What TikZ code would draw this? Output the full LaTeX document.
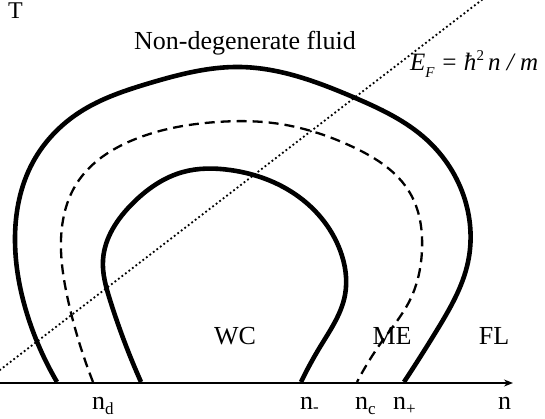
\documentclass[tikz,border=0pt]{standalone}
\usepackage{fontspec}
\setmainfont{Liberation Serif}
\usetikzlibrary{arrows.meta,hobby}
\begin{document}
\begin{tikzpicture}[x=1pt,y=-1pt,
  lbl/.style={font=\fontsize{26}{30}\selectfont, inner sep=0pt, anchor=base},
  lblw/.style={lbl, anchor=base west},
  solidcurve/.style={line width=4.6pt, line cap=butt, line join=round, use Hobby shortcut},
  dashcurve/.style={line width=2.3pt, dash pattern=on 10pt off 6pt, use Hobby shortcut},
  dotline/.style={line width=1.8pt, dash pattern=on 1.8pt off 2.6pt},
  axisline/.style={line width=1.3pt, -{Stealth[length=9pt,width=7pt]}}]
\useasboundingbox (0,0) rectangle (545,419);

% axis
\coordinate (o) at (0,383);
\coordinate (xe) at (513,383);
\draw[axisline] (o) -- (xe);

% Fermi line
\coordinate (d1) at (-4,373);
\coordinate (d2) at (483,-1);
\draw[dotline] (d1) -- (d2);

% outer solid curve
\draw[solidcurve] (57,382) .. (28,317) .. (15,240) .. (33,162) .. (80,112)
  .. (150,83) .. (240,67) .. (353,97) .. (427,140) .. (465,200) .. (468,262)
  .. (437,330) .. (404,382);

% dashed curve
\draw[dashcurve] (93,382) .. (68,300) .. (61,240) .. (77,183) .. (133,140)
  .. (217,122) .. (273,123) .. (353,147) .. (410,193) .. (422,250)
  .. (410,300) .. (383,340) .. (357,382);

% inner solid curve
\draw[solidcurve] (141,382) .. (110,300) .. (103,260) .. (133,203) .. (183,172)
  .. (230,170) .. (303,200) .. (340,250) .. (345,295) .. (320,347) .. (301,382);

% labels
\node[lblw, font=\fontsize{24}{28}\selectfont] (T) at (8,19) {T};
\node[lbl] (ndf) at (245,50) {Non-degenerate fluid};
\node[lblw, font=\fontsize{25}{30}\selectfont] (EF) at (410,71) {\itshape E\raisebox{-7pt}{\fontsize{15}{15}\selectfont F} = ħ\raisebox{10pt}{\upshape\fontsize{15}{15}\selectfont 2}\,n / m};
\node[lbl] (WC) at (235,344) {WC};
\node[lbl] (ME) at (392,344) {ME};
\node[lbl] (FL) at (494,344) {FL};

\node[lblw] (nd) at (92,409) {n\raisebox{-5pt}{\fontsize{17}{17}\selectfont d}};
\node[lblw] (nm) at (300,409) {n\raisebox{-3pt}{\fontsize{17}{17}\selectfont -}};
\node[lblw] (nc) at (355,409) {n\raisebox{-5pt}{\fontsize{17}{17}\selectfont c}};
\node[lblw] (np) at (393,409) {n\raisebox{-5pt}{\fontsize{17}{17}\selectfont +}};
\node[lblw] (n) at (498,409) {n};
\end{tikzpicture}
\end{document}
